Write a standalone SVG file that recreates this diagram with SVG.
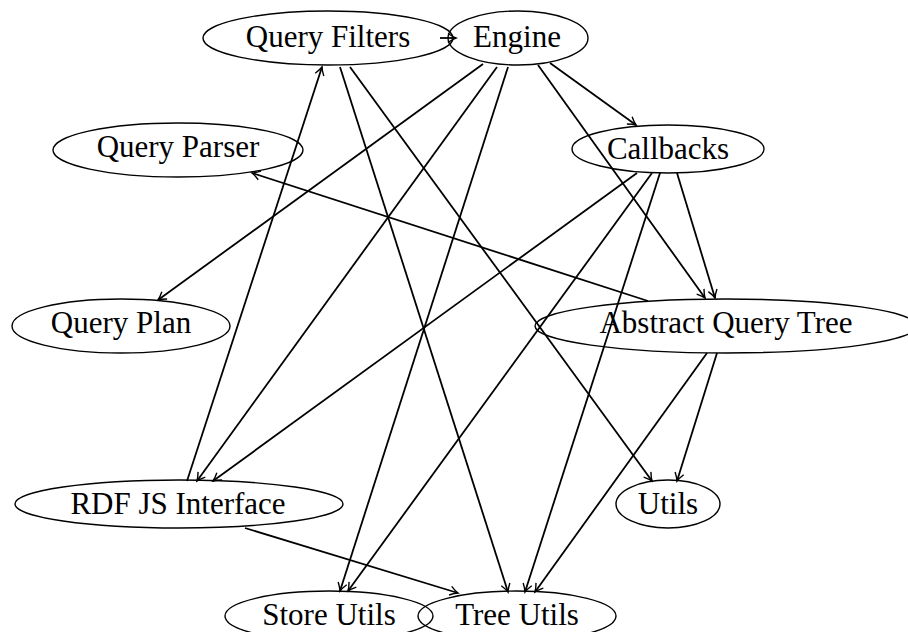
<svg xmlns="http://www.w3.org/2000/svg" width="908" height="632" viewBox="0 0 908 632">
<style>
.node ellipse{fill:none;stroke:#000;stroke-width:1.4}
.node text{font-family:"Liberation Serif","Times New Roman",serif;font-size:31px;fill:#000;text-anchor:middle}
.edges line{stroke:#000;stroke-width:1.8;fill:none;marker-end:url(#arr)}
</style>
<defs>
<marker id="arr" markerUnits="userSpaceOnUse" viewBox="-10 -6 12 12" refX="0" refY="0" markerWidth="12" markerHeight="12" orient="auto">
<path d="M-8,-4.5 Q-3,-1 0,0 Q-3,1 -8,4.5" fill="none" stroke="#000" stroke-width="1.4"/>
</marker>
</defs>
<rect width="908" height="632" fill="#fff"/>
<g class="edges">
<line x1="440" y1="38" x2="456" y2="38"/>
<line x1="550" y1="63" x2="636" y2="125"/>
<line x1="538" y1="65" x2="705" y2="298"/>
<line x1="483" y1="64" x2="158" y2="300"/>
<line x1="497" y1="67" x2="197" y2="481"/>
<line x1="508" y1="67" x2="340" y2="591"/>
<line x1="340" y1="67" x2="508" y2="592"/>
<line x1="350" y1="67" x2="652" y2="481"/>
<line x1="187" y1="481" x2="322" y2="67"/>
<line x1="648" y1="301" x2="252" y2="173"/>
<line x1="677" y1="173" x2="715" y2="298"/>
<line x1="637" y1="173" x2="213" y2="481"/>
<line x1="652" y1="173" x2="348" y2="591"/>
<line x1="660" y1="173" x2="525" y2="592"/>
<line x1="717" y1="353" x2="677" y2="481"/>
<line x1="707" y1="353" x2="535" y2="592"/>
<line x1="245" y1="528" x2="458" y2="593"/>
</g>
<g id="query-filters" class="node"><ellipse cx="328" cy="38" rx="125" ry="27"/><text x="328" y="47">Query Filters</text></g>
<g id="engine" class="node"><ellipse cx="518" cy="38" rx="70" ry="27"/><text x="517" y="47">Engine</text></g>
<g id="query-parser" class="node"><ellipse cx="178" cy="150" rx="125" ry="27"/><text x="178" y="157">Query Parser</text></g>
<g id="callbacks" class="node"><ellipse cx="668" cy="149" rx="96" ry="24"/><text x="668" y="159">Callbacks</text></g>
<g id="query-plan" class="node"><ellipse cx="121" cy="326" rx="109" ry="27"/><text x="121" y="333">Query Plan</text></g>
<g id="abstract-query-tree" class="node"><ellipse cx="726" cy="326" rx="191" ry="27"/><text x="726" y="333">Abstract Query Tree</text></g>
<g id="rdf-js-interface" class="node"><ellipse cx="179" cy="504" rx="164" ry="24"/><text x="178" y="514">RDF JS Interface</text></g>
<g id="utils" class="node"><ellipse cx="668" cy="504" rx="52" ry="24"/><text x="668" y="514">Utils</text></g>
<g id="store-utils" class="node"><ellipse cx="329" cy="616" rx="104" ry="25"/><text x="329" y="625">Store Utils</text></g>
<g id="tree-utils" class="node"><ellipse cx="517" cy="616" rx="99" ry="25"/><text x="517" y="625">Tree Utils</text></g>
</svg>
